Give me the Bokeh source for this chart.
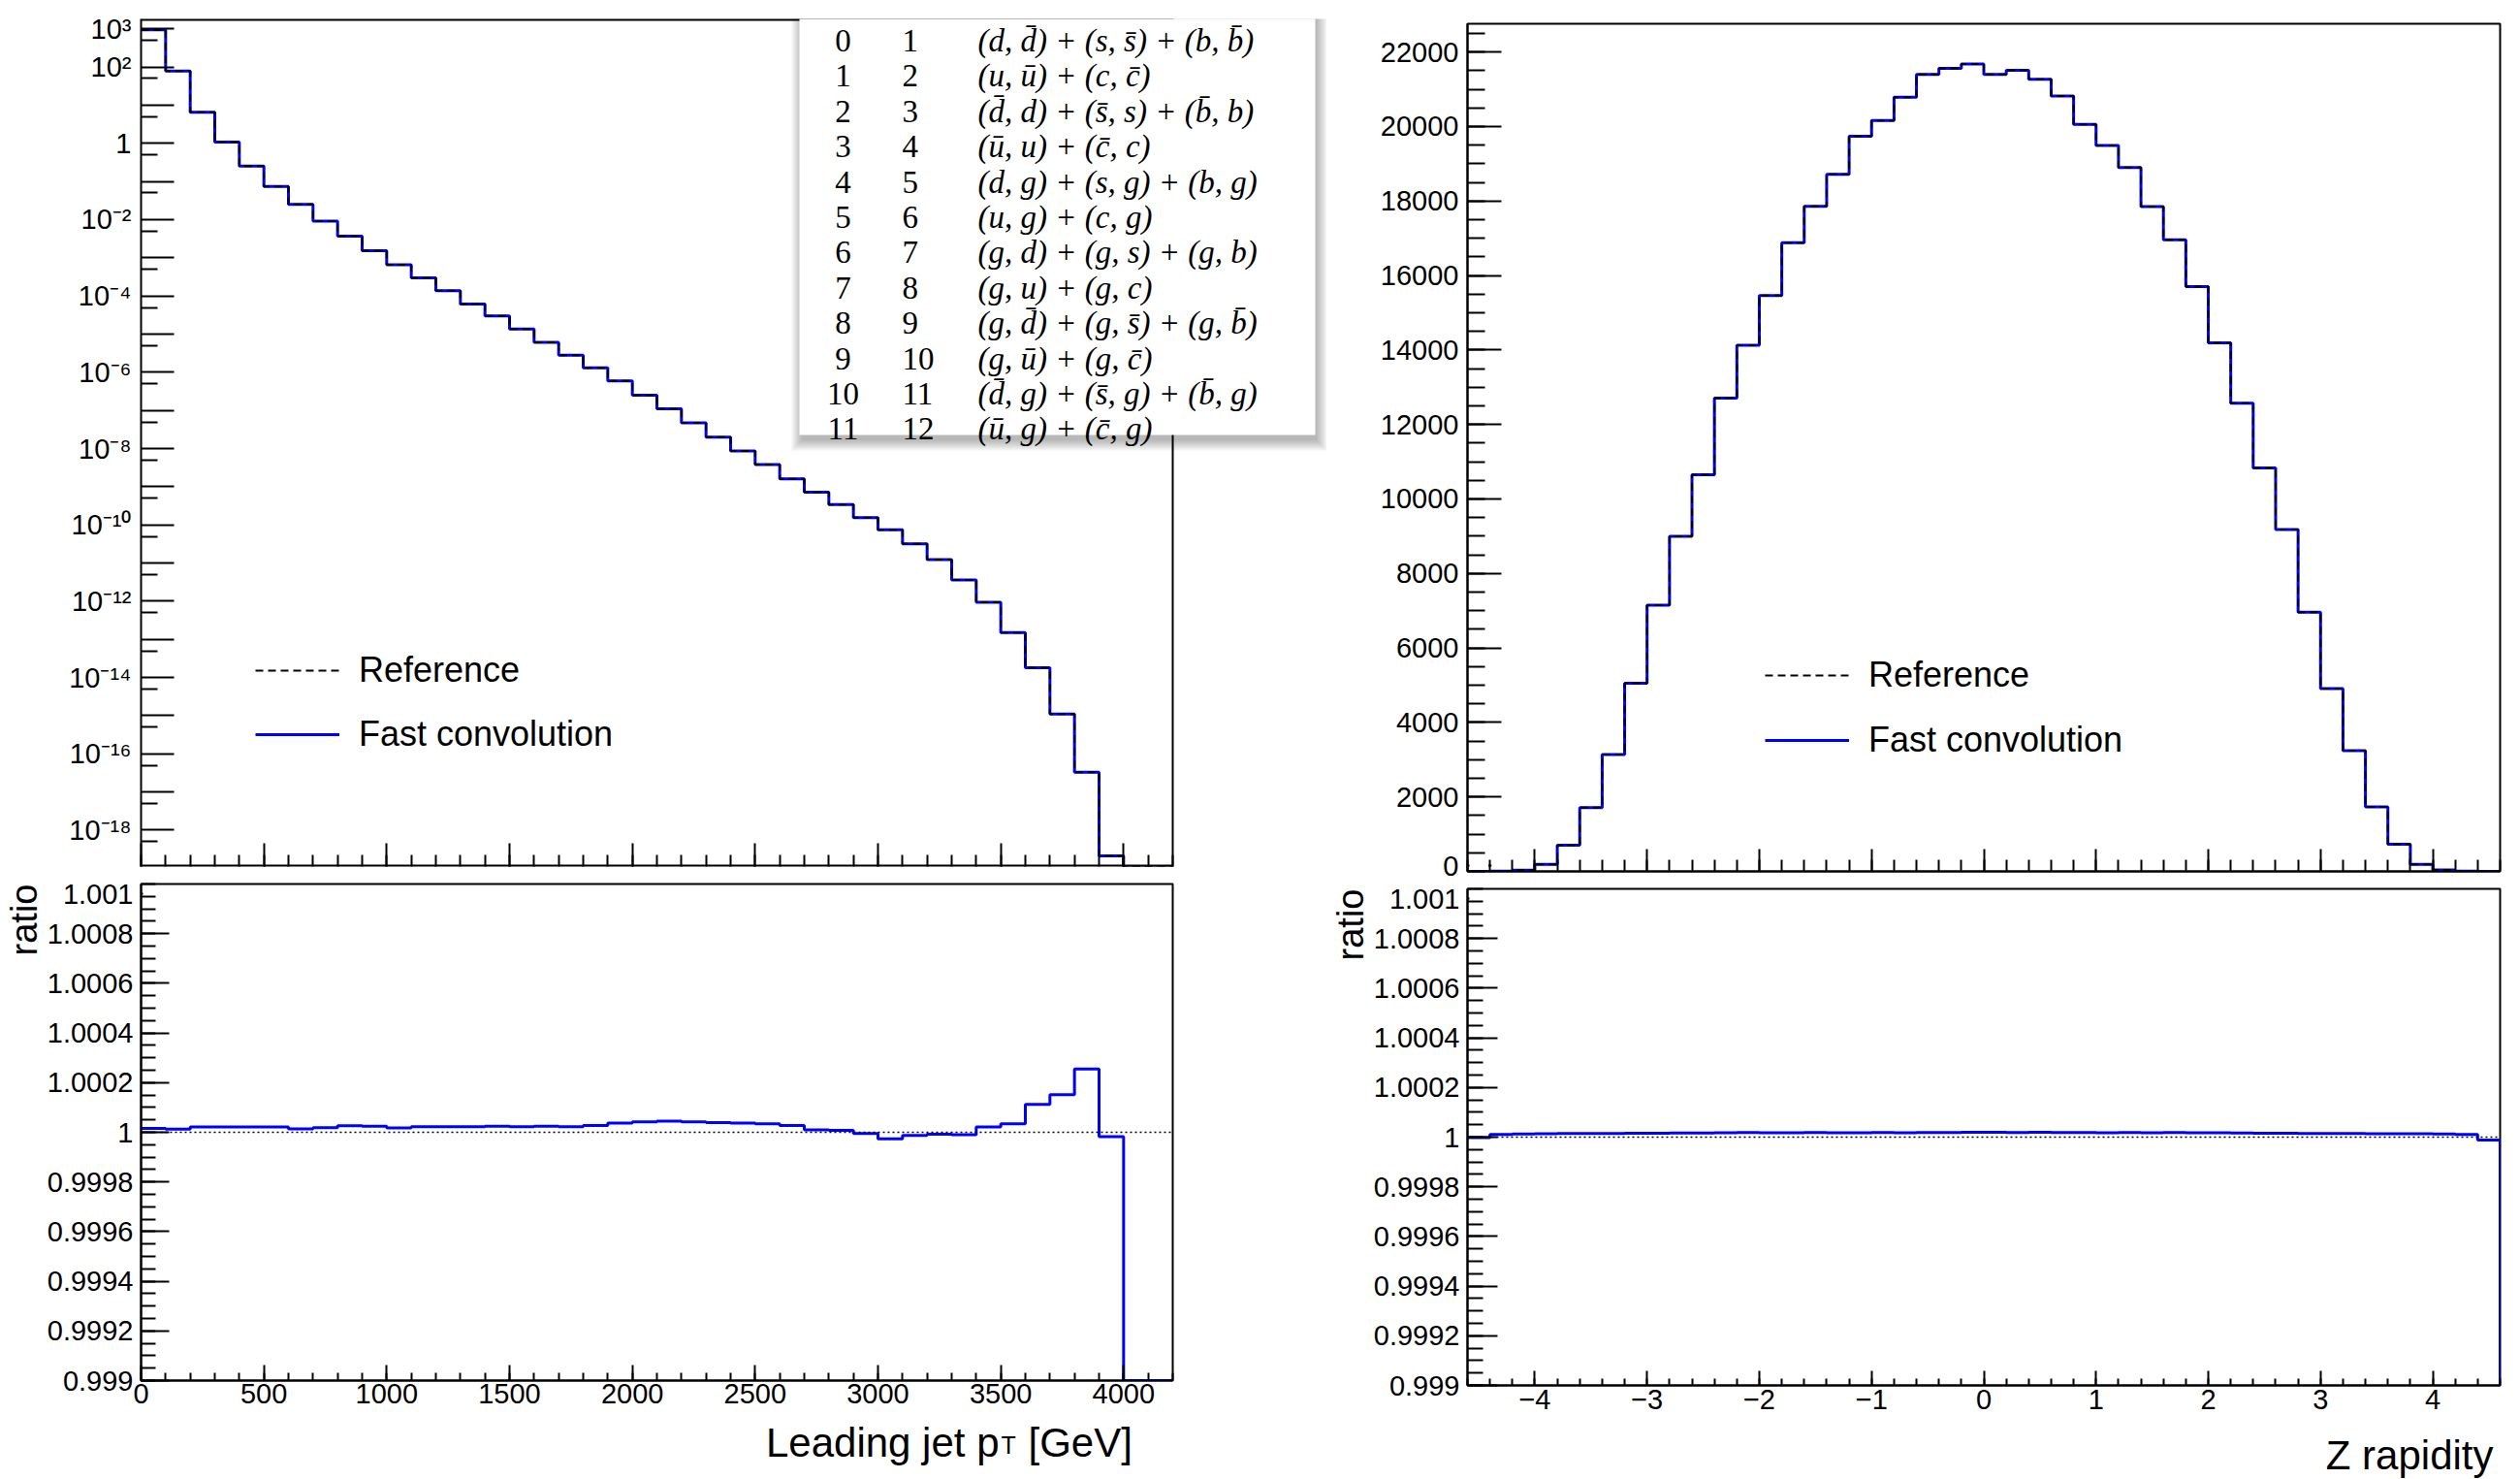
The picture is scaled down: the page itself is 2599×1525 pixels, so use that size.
import math
from bokeh.plotting import figure
from bokeh.models import (FixedTicker, CustomJSTickFormatter, CustomLabelingPolicy, Label, Legend,
                          LegendItem, BoxAnnotation, Range1d, Span, Title)
from bokeh.layouts import row, column
from bokeh.embed import file_html
from bokeh.resources import INLINE

# ------------------------------------------------------------------ data
# Leading jet pT histogram (bins of 100 GeV, 0..4200)
pt_edges = list(range(0, 4300, 100))
pt_reference = [950, 79, 6.5, 1.08, 0.255, 0.0746, 0.025, 0.0091, 0.0037, 0.00153,
                6.6e-4, 3.0e-4, 1.37e-4, 6.1e-5, 3.0e-5, 1.37e-5, 6.1e-6, 2.8e-6, 1.3e-6, 5.9e-7,
                2.5e-7, 1.1e-7, 4.7e-8, 2.0e-8, 8.7e-9, 3.8e-9, 1.6e-9, 7.2e-10, 3.4e-10, 1.55e-10,
                7.4e-11, 3.2e-11, 1.23e-11, 3.6e-12, 9.3e-13, 1.5e-13, 1.8e-14, 1.1e-15, 3.3e-17, 2.1e-19,
                0.0, 0.0]
pt_ratio = [1.000016, 1.000013, 1.000021, 1.000021, 1.000021, 1.000021, 1.000014, 1.000019, 1.000026, 1.000024,
            1.000018, 1.000022, 1.000022, 1.000022, 1.000024, 1.000022, 1.000024, 1.000022, 1.000027, 1.000037,
            1.000042, 1.000045, 1.000042, 1.000039, 1.000037, 1.000034, 1.000027, 1.000010, 1.000008, 0.999995,
            0.999974, 0.999987, 0.999992, 0.999990, 1.000021, 1.000034, 1.000112, 1.000151, 1.000255, 0.999982,
            0.0, 0.0]

# Z rapidity histogram (bins of 0.2, -4.6..4.6)
rap_edges = [round(-4.6 + 0.2 * i, 1) for i in range(47)]
rap_reference = [2, 8, 35, 190, 700, 1710, 3140, 5050, 7150, 9000,
                 10650, 12710, 14130, 15460, 16880, 17860, 18720, 19740, 20160, 20790,
                 21400, 21560, 21680, 21400, 21510, 21270, 20820, 20060, 19490, 18900,
                 17850, 16960, 15700, 14190, 12570, 10830, 9180, 6960, 4910, 3240,
                 1730, 730, 190, 40, 8, 2]
rap_ratio = [0.999998, 1.000011, 1.000013, 1.000014, 1.000015, 1.000015, 1.000015, 1.000016, 1.000016, 1.000017,
             1.000017, 1.000018, 1.000019, 1.000018, 1.000018, 1.000019, 1.000018, 1.000018, 1.000019, 1.000018,
             1.000019, 1.000019, 1.000020, 1.000020, 1.000019, 1.000020, 1.000019, 1.000019, 1.000018, 1.000019,
             1.000018, 1.000019, 1.000018, 1.000018, 1.000017, 1.000016, 1.000016, 1.000015, 1.000015, 1.000015,
             1.000014, 1.000014, 1.000014, 1.000013, 1.000011, 0.999988]

series_labels = ["Reference", "Fast convolution"]

# tick labels
log_label_exponents = [3, 2, 0, -2, -4, -6, -8, -10, -12, -14, -16, -18]
log_tick_labels = ["10\u00b3", "10\u00b2", "1", "10\u207b\u00b2", "10\u207b\u2074", "10\u207b\u2076",
                   "10\u207b\u2078", "10\u207b\u00b9\u2070", "10\u207b\u00b9\u00b2", "10\u207b\u00b9\u2074",
                   "10\u207b\u00b9\u2076", "10\u207b\u00b9\u2078"]
ratio_tick_values = [0.999, 0.9992, 0.9994, 0.9996, 0.9998, 1.0, 1.0002, 1.0004, 1.0006, 1.0008]
ratio_tick_labels = ["0.999", "0.9992", "0.9994", "0.9996", "0.9998", "1", "1.0002", "1.0004", "1.0006", "1.0008"]
ratio_top_label = "1.001"
pt_tick_values = [0, 500, 1000, 1500, 2000, 2500, 3000, 3500, 4000]
pt_tick_labels = ["0", "500", "1000", "1500", "2000", "2500", "3000", "3500", "4000"]
rap_tick_values = [-4, -3, -2, -1, 0, 1, 2, 3, 4]
rap_tick_labels = ["\u22124", "\u22123", "\u22122", "\u22121", "0", "1", "2", "3", "4"]
count_tick_values = [2000, 4000, 6000, 8000, 10000, 12000, 14000, 16000, 18000, 20000, 22000]
count_tick_labels = ["2000", "4000", "6000", "8000", "10000", "12000", "14000", "16000", "18000", "20000", "22000"]
count_zero_label = "0"

# channel table
table_col1 = ["0", "1", "2", "3", "4", "5", "6", "7", "8", "9", "10", "11"]
table_col2 = ["1", "2", "3", "4", "5", "6", "7", "8", "9", "10", "11", "12"]
M = "\u0304"
table_channels = [
    "(d, d" + M + ") + (s, s" + M + ") + (b, b" + M + ")",
    "(u, \u016b) + (c, c" + M + ")",
    "(d" + M + ", d) + (s" + M + ", s) + (b" + M + ", b)",
    "(\u016b, u) + (c" + M + ", c)",
    "(d, g) + (s, g) + (b, g)",
    "(u, g) + (c, g)",
    "(g, d) + (g, s) + (g, b)",
    "(g, u) + (g, c)",
    "(g, d" + M + ") + (g, s" + M + ") + (g, b" + M + ")",
    "(g, \u016b) + (g, c" + M + ")",
    "(d" + M + ", g) + (s" + M + ", g) + (b" + M + ", g)",
    "(\u016b, g) + (c" + M + ", g)",
]

x_titles = ["Leading jet p", "T", "[GeV]", "Z rapidity"]
y_title = "ratio"

# ------------------------------------------------------------------ styling / geometry
FONT = "Liberation Sans"
TICK_FS = "29px"
BLUE = "#0000ff"
DASH = "8 5"
LOG_TOP, LOG_BOT = 3.262, -18.956
R_TOP, R_BOT = 1.001, 0.999
RT_TOP = 22760.0
PT_MAX = 4200.0

LW = 1368                 # left column width
RW = 2599 - LW            # right column width
FL = 145                  # left border of every frame inside its column
L_FW, R_FW = 1064, 1065   # frame widths
FH_TOP, FH_RATIO = 874, 512

# left column heights
LT_T, LT_B = 19, 8
LT_H = LT_T + FH_TOP + LT_B          # 901
LR_T, LR_B = 10, 40
LR_H = LR_T + FH_RATIO + LR_B        # 562
LS_H = 1525 - LT_H - LR_H            # 62
# right column heights
RT_T, RT_B = 24, 11
RT_H = RT_T + FH_TOP + RT_B          # 909
RR_T, RR_B = 7, 42
RR_H = RR_T + FH_RATIO + RR_B        # 561
RS_H = 1525 - RT_H - RR_H            # 55

PX_PER_GEV = L_FW / PT_MAX
UX = 9.2 / R_FW                      # rapidity units per px
DV = (R_TOP - R_BOT) / FH_RATIO      # ratio units per px
DC = RT_TOP / FH_TOP                 # counts per px
TOP_LABEL_DROP = 10                  # px the "1.001" label sits below the frame top
R_TOP_LABEL_POS = R_TOP - TOP_LABEL_DROP * DV
ZERO_LABEL_RISE = 6                  # px the "0" count label sits above the frame bottom
ZERO_LABEL_POS = ZERO_LABEL_RISE * DC


def lx(px):  # page x -> GeV (left column figures)
    return (px - FL) / PX_PER_GEV


def lty(py):  # page y -> value (left top, log)
    return 10 ** (LOG_TOP - (py - LT_T) / FH_TOP * (LOG_TOP - LOG_BOT))


def fmt(vals, labs):
    return CustomJSTickFormatter(args=dict(vals=list(vals), labs=list(labs)), code="""
        for (let i = 0; i < vals.length; i++) {
            const v = vals[i];
            if (Math.abs(v - tick) <= 1e-7 * Math.max(Math.abs(v), 1e-300)) return labs[i];
        }
        return "";
    """)


def no_labels():
    return CustomLabelingPolicy(code="""
        try {
            const n = indices.size;
            for (let i = 0; i < n; i++) indices.unset(i);
        } catch (e) {}
        return indices;
    """)


def no_align(p):
    if "frame_align" in p.properties():
        p.frame_align = False


def make_fig(width, height, xr, yr, borders, log=False, outline=True):
    p = figure(width=width, height=height, x_range=xr, y_range=yr,
               y_axis_type="log" if log else "linear", title=None,
               output_backend="svg", toolbar_location=None, tools="")
    p.min_border_left, p.min_border_right, p.min_border_top, p.min_border_bottom = borders
    no_align(p)
    p.xgrid.visible = False
    p.ygrid.visible = False
    p.outline_line_color = "black" if outline else None
    p.outline_line_width = 2
    p.background_fill_color = "white"
    p.border_fill_color = "white"
    return p


def make_strip(width, height):
    s = figure(width=width, height=height, x_range=Range1d(0, width), y_range=Range1d(height, 0),
               title=None, output_backend="svg", toolbar_location=None, tools="",
               x_axis_location=None, y_axis_location=None)
    s.min_border_left = s.min_border_right = s.min_border_top = s.min_border_bottom = 0
    no_align(s)
    s.outline_line_color = None
    s.grid.visible = False
    s.background_fill_color = "white"
    s.border_fill_color = "white"
    return s


def style_axis(ax, major_in, minor_in, labels=True, standoff=5):
    ax.axis_line_color = "black"
    ax.axis_line_width = 2
    ax.major_tick_in = major_in
    ax.major_tick_out = 0
    ax.minor_tick_in = minor_in
    ax.minor_tick_out = 0
    ax.major_tick_line_width = 2
    ax.minor_tick_line_width = 2
    ax.major_tick_line_color = "black"
    ax.minor_tick_line_color = "black"
    ax.major_label_text_font = FONT
    ax.major_label_text_color = "black"
    if labels:
        ax.major_label_text_font_size = TICK_FS
        ax.major_label_standoff = standoff
    else:
        ax.major_label_text_font_size = "1px"
        ax.major_label_standoff = 0
        ax.major_label_policy = no_labels()


def step_xy(edges, vals):
    xs, ys = [], []
    for i, v in enumerate(vals):
        xs.extend([edges[i], edges[i + 1]])
        ys.extend([v, v])
    return xs, ys


def add_label(p, x, y, text, size, align="left", font=FONT, style="normal"):
    p.add_layout(Label(x=x, y=y, text=text, text_font=font, text_font_size=size, text_align=align,
                       text_baseline="alphabetic", text_font_style=style, text_color="black"))


def mask(p, left, right, top, bottom):
    p.add_layout(BoxAnnotation(left=left, right=right, top=top, bottom=bottom,
                               fill_color="white", fill_alpha=1.0, line_alpha=0, level="annotation"))


def ratio_title():
    return Title(text=y_title, align="right", text_font=FONT, text_font_size="38px",
                 text_font_style="normal", text_color="black", standoff=0, offset=0)


def legend(items, loc, spacing):
    return Legend(items=items, location=loc, orientation="vertical",
                  glyph_width=87, glyph_height=44, label_height=44, label_width=100,
                  label_standoff=20, spacing=spacing, padding=0, margin=0,
                  label_text_font=FONT, label_text_font_size="36px", label_text_color="black",
                  background_fill_alpha=0, border_line_alpha=0)


ratio_minor = [round(0.999 + 0.00005 * i, 6) for i in range(41)]
pt_minor = list(range(0, 4300, 100))
rap_minor = [round(-4.6 + 0.2 * i, 1) for i in range(47)]
ratio_ticks = ratio_tick_values + [R_TOP_LABEL_POS]
ratio_labels = ratio_tick_labels + [ratio_top_label]

# ------------------------------------------------------------------ left top (pT, log)
# frame widened to the column edge so the channel table may overhang the plot box;
# the visible box is closed at 4200 GeV with lines on the data scale
pt_fast = [r * q for r, q in zip(pt_reference, pt_ratio)]
floor = 10 ** LOG_BOT
lt_xmax = (LW - FL) / PX_PER_GEV
lt = make_fig(LW, LT_H, Range1d(0, lt_xmax), Range1d(10 ** LOG_BOT, 10 ** LOG_TOP),
              (FL, 0, LT_T, LT_B), log=True, outline=False)
xs, ys = step_xy(pt_edges, [max(v, floor) for v in pt_fast])
r_fast = lt.line(xs, ys, line_color=BLUE, line_width=3)
xs, ys = step_xy(pt_edges, [max(v, floor) for v in pt_reference])
r_ref = lt.line(xs, ys, line_color="black", line_width=2, line_dash=DASH)
box_top, box_bot = 10 ** LOG_TOP, 10 ** LOG_BOT
lt.line([0, PT_MAX], [box_top, box_top], line_color="black", line_width=4)
lt.line([0, PT_MAX], [box_bot, box_bot], line_color="black", line_width=4)
lt.line([PT_MAX, PT_MAX], [box_bot, box_top], line_color="black", line_width=2)
lt.yaxis.ticker = FixedTicker(ticks=[10.0 ** e for e in range(-18, 4)],
                              minor_ticks=[5 * 10.0 ** e for e in range(-19, 3)])
lt.yaxis.formatter = fmt([10.0 ** e for e in log_label_exponents], log_tick_labels)
style_axis(lt.yaxis[0], 34, 17, True, 10)
lt.xaxis.ticker = FixedTicker(ticks=pt_tick_values, minor_ticks=pt_minor)
style_axis(lt.xaxis[0], 24, 12, False)
lt.xaxis.axis_line_color = None

lt.add_layout(legend([LegendItem(label=series_labels[0], renderers=[r_ref]),
                      LegendItem(label=series_labels[1], renderers=[r_fast])],
                     (263 - FL, (LT_T + FH_TOP) - 779), 22))

# channel table with drop shadow
bx_l, bx_r, bx_t, bx_b = 824, 1356, 7, 448
for k in range(6):
    g = 1 + 2 * k
    lt.add_layout(BoxAnnotation(left=lx(bx_l - g + 3), right=lx(bx_r + g + 1),
                                top=lty(bx_t - g + 6), bottom=lty(bx_b + g + 5),
                                fill_color="black", fill_alpha=0.05, line_alpha=0, level="annotation"))
mask(lt, lx(bx_l), lx(bx_r), lty(bx_t), lty(bx_b))
for i in range(12):
    base = 41.5 + 36.4 * i
    add_label(lt, lx(869), lty(base), table_col1[i], "33px", align="center", font="Liberation Serif")
    add_label(lt, lx(930), lty(base), table_col2[i], "33px", align="left", font="Liberation Serif")
    add_label(lt, lx(1008), lty(base), table_channels[i], "33px", align="left",
              font="Liberation Serif", style="italic")

# ------------------------------------------------------------------ left ratio
lr = make_fig(LW, LR_H, Range1d(0, PT_MAX), Range1d(R_BOT, R_TOP),
              (FL, LW - FL - L_FW, LR_T, LR_B))
lr.add_layout(Span(location=1.0, dimension="width", line_color="black", line_width=1.5, line_dash="2 3"))
xs, ys = step_xy(pt_edges, [min(max(v, R_BOT), R_TOP) for v in pt_ratio])
lr.line(xs, ys, line_color=BLUE, line_width=3)
lr.yaxis.ticker = FixedTicker(ticks=ratio_ticks, minor_ticks=ratio_minor)
lr.yaxis.formatter = fmt(ratio_ticks, ratio_labels)
style_axis(lr.yaxis[0], 29, 15, True, 8)
lr.xaxis.ticker = FixedTicker(ticks=pt_tick_values, minor_ticks=pt_minor)
lr.xaxis.formatter = fmt(pt_tick_values, pt_tick_labels)
style_axis(lr.xaxis[0], 16, 8, True, 3)
lr.add_layout(ratio_title(), "left")
# hide the tick mark that only carries the shifted "1.001" label
mask(lr, 2 / PX_PER_GEV, 33 / PX_PER_GEV,
     R_TOP - (TOP_LABEL_DROP - 1.6) * DV, R_TOP - (TOP_LABEL_DROP + 1.6) * DV)

ls = make_strip(LW, LS_H)
s_top = LT_H + LR_H
add_label(ls, 1030, 1487 - s_top, x_titles[0], "42px", align="right")
add_label(ls, 1032, 1489 - s_top, x_titles[1], "25px", align="left")
add_label(ls, 1060, 1487 - s_top, x_titles[2], "42px", align="left")

# ------------------------------------------------------------------ right top (rapidity)
rap_fast = [r * q for r, q in zip(rap_reference, rap_ratio)]
rt = make_fig(RW, RT_H, Range1d(-4.6, 4.6), Range1d(0, RT_TOP),
              (FL, RW - FL - R_FW, RT_T, RT_B))
xs, ys = step_xy(rap_edges, rap_fast)
q_fast = rt.line(xs, ys, line_color=BLUE, line_width=3)
xs, ys = step_xy(rap_edges, rap_reference)
q_ref = rt.line(xs, ys, line_color="black", line_width=2, line_dash=DASH)
count_ticks = [ZERO_LABEL_POS] + count_tick_values
rt.yaxis.ticker = FixedTicker(ticks=count_ticks, minor_ticks=list(range(0, 23000, 500)))
rt.yaxis.formatter = fmt(count_ticks, [count_zero_label] + count_tick_labels)
style_axis(rt.yaxis[0], 35, 18, True, 9)
rt.xaxis.ticker = FixedTicker(ticks=rap_tick_values, minor_ticks=rap_minor)
style_axis(rt.xaxis[0], 23, 12, False)
rt.add_layout(legend([LegendItem(label=series_labels[0], renderers=[q_ref]),
                      LegendItem(label=series_labels[1], renderers=[q_fast])],
                     (1820 - (LW + FL), (RT_T + FH_TOP) - 785), 23))
# hide the tick mark that only carries the raised "0" label (keep the -4.4 minor tick)
minor_px = (rap_minor[1] - rap_minor[0]) / UX
mask(rt, -4.6 + 2 * UX, -4.6 + (minor_px - 1.6) * UX,
     (ZERO_LABEL_RISE + 1.6) * DC, (ZERO_LABEL_RISE - 1.6) * DC)
mask(rt, -4.6 + (minor_px + 1.6) * UX, -4.6 + 37 * UX,
     (ZERO_LABEL_RISE + 1.6) * DC, (ZERO_LABEL_RISE - 1.6) * DC)

# ------------------------------------------------------------------ right ratio
rr = make_fig(RW, RR_H, Range1d(-4.6, 4.6), Range1d(R_BOT, R_TOP),
              (FL, RW - FL - R_FW, RR_T, RR_B))
rr.add_layout(Span(location=1.0, dimension="width", line_color="black", line_width=1.5, line_dash="2 3"))
xs, ys = step_xy(rap_edges, [min(max(v, R_BOT), R_TOP) for v in rap_ratio])
xs.append(rap_edges[-1])
ys.append(R_BOT)
rr.line(xs, ys, line_color=BLUE, line_width=3)
rr.yaxis.ticker = FixedTicker(ticks=ratio_ticks, minor_ticks=ratio_minor)
rr.yaxis.formatter = fmt(ratio_ticks, ratio_labels)
style_axis(rr.yaxis[0], 31, 16, True, 8)
rr.xaxis.ticker = FixedTicker(ticks=rap_tick_values, minor_ticks=rap_minor)
rr.xaxis.formatter = fmt(rap_tick_values, rap_tick_labels)
style_axis(rr.xaxis[0], 15, 7, True, 4)
rr.add_layout(ratio_title(), "left")
mask(rr, -4.6 + 2 * UX, -4.6 + 34 * UX,
     R_TOP - (TOP_LABEL_DROP - 1.6) * DV, R_TOP - (TOP_LABEL_DROP + 1.6) * DV)

rs = make_strip(RW, RS_H)
add_label(rs, 2571 - LW, 1500 - (RT_H + RR_H), x_titles[3], "42px", align="right")

layout = row(column(lt, lr, ls), column(rt, rr, rs))
open("out.html", "w").write(file_html(layout, INLINE))
